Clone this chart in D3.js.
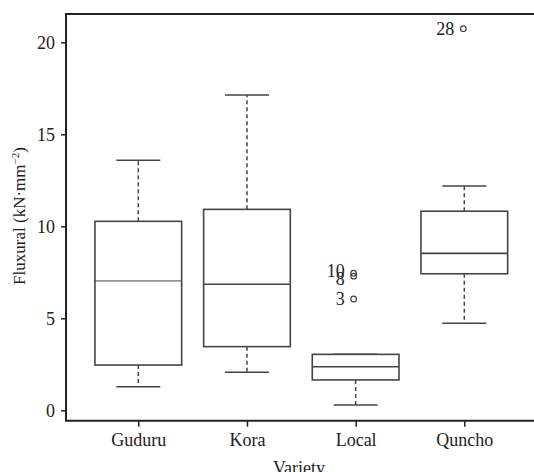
<!DOCTYPE html>
<html>
<head>
<meta charset="utf-8">
<script src="https://cdn.jsdelivr.net/npm/d3@7"></script>
<style>
  html, body { margin: 0; padding: 0; background: #fff; }
  svg { display: block; }
  svg text { font-family: "Liberation Serif", "Times New Roman", Times, "DejaVu Serif", serif !important; fill: #222; }
</style>
</head>
<body>
<svg id="chart" width="534" height="472"></svg>
<script>
const varieties = ["Guduru", "Kora", "Local", "Quncho"];
const lowerWhisker = [1.28, 2.07, 0.29, 4.73];
const q1 = [2.46, 3.46, 1.65, 7.42];
const median = [7.03, 6.85, 2.37, 8.53];
const q3 = [10.27, 10.92, 3.04, 10.82];
const upperWhisker = [13.59, 17.14, 3.04, 12.19];
const outlierVariety = ["Local", "Local", "Local", "Quncho"];
const outlierValue = [7.45, 7.29, 6.05, 20.74];
const outlierLabel = ["10", "8", "3", "28"];
const yTicks = [0, 5, 10, 15, 20];

const svg = d3.select("#chart");
const frameLeft = 66, frameTop = 14, frameBottom = 420.7, frameRight = 540;
const fs = 18;

const y = d3.scaleLinear().domain([0, 20]).range([410.3, 42.3]);
const x = d3.scalePoint().domain(varieties).range([138.3, 464.3]);
const boxW = 86.7, capW = 44;

// frame
svg.append("path")
  .attr("d", `M${frameRight},${frameTop}H${frameLeft}V${frameBottom}H${frameRight}`)
  .attr("fill", "none").attr("stroke", "#222").attr("stroke-width", 2);

// y axis
const yAxis = svg.append("g").attr("transform", `translate(${frameLeft},0)`)
  .call(d3.axisLeft(y).tickValues(yTicks).tickSize(5).tickPadding(6).tickSizeOuter(0));
yAxis.attr("font-family", null);
yAxis.select(".domain").remove();
yAxis.selectAll("line").attr("stroke", "#222").attr("stroke-width", 1.5);
yAxis.selectAll("text").attr("font-size", fs).attr("fill", "#222");

// x axis
const xAxis = svg.append("g").attr("transform", `translate(0,${frameBottom})`)
  .call(d3.axisBottom(x).tickSize(6).tickPadding(7).tickSizeOuter(0));
xAxis.attr("font-family", null);
xAxis.select(".domain").remove();
xAxis.selectAll("line").attr("stroke", "#222").attr("stroke-width", 1.5);
xAxis.selectAll("text").attr("font-size", fs).attr("fill", "#222");

// axis titles
svg.append("text")
  .attr("transform", `translate(25,216) rotate(-90)`)
  .attr("text-anchor", "middle").attr("font-size", 17)
  .html('Fluxural (kN·mm<tspan dy="-6" font-size="11">−2</tspan><tspan dy="6">)</tspan>');
svg.append("text")
  .attr("x", 299).attr("y", 474)
  .attr("text-anchor", "middle").attr("font-size", fs)
  .text("Variety");

// boxes
const stroke = "#444";
const g = svg.append("g");
varieties.forEach((v, i) => {
  const cx = x(v);
  g.append("line").attr("x1", cx).attr("x2", cx)
    .attr("y1", y(q3[i])).attr("y2", y(upperWhisker[i]))
    .attr("stroke", stroke).attr("stroke-width", 1.5).attr("stroke-dasharray", "4,3");
  g.append("line").attr("x1", cx).attr("x2", cx)
    .attr("y1", y(q1[i])).attr("y2", y(lowerWhisker[i]))
    .attr("stroke", stroke).attr("stroke-width", 1.5).attr("stroke-dasharray", "4,3");
  [upperWhisker[i], lowerWhisker[i]].forEach(w => {
    g.append("line").attr("x1", cx - capW / 2).attr("x2", cx + capW / 2)
      .attr("y1", y(w)).attr("y2", y(w))
      .attr("stroke", stroke).attr("stroke-width", 1.5);
  });
  g.append("rect")
    .attr("x", cx - boxW / 2).attr("width", boxW)
    .attr("y", y(q3[i])).attr("height", y(q1[i]) - y(q3[i]))
    .attr("fill", "#fff").attr("stroke", stroke).attr("stroke-width", 1.6);
  g.append("line").attr("x1", cx - boxW / 2).attr("x2", cx + boxW / 2)
    .attr("y1", y(median[i])).attr("y2", y(median[i]))
    .attr("stroke", stroke).attr("stroke-width", i === 0 ? 1 : 1.6);
});

// outliers
outlierValue.forEach((val, i) => {
  const cx = x(outlierVariety[i]) - (outlierVariety[i] === "Local" ? 2 : 1);
  const cy = y(val);
  g.append("circle").attr("cx", cx).attr("cy", cy).attr("r", 2.8)
    .attr("fill", "none").attr("stroke", stroke).attr("stroke-width", 1.2);
  const dy = outlierLabel[i] === "10" ? -3 : (outlierLabel[i] === "8" ? 3 : 0);
  g.append("text").attr("x", cx - 9).attr("y", cy + dy)
    .attr("dy", "0.35em").attr("text-anchor", "end").attr("font-size", fs)
    .text(outlierLabel[i]);
});
</script>
</body>
</html>
